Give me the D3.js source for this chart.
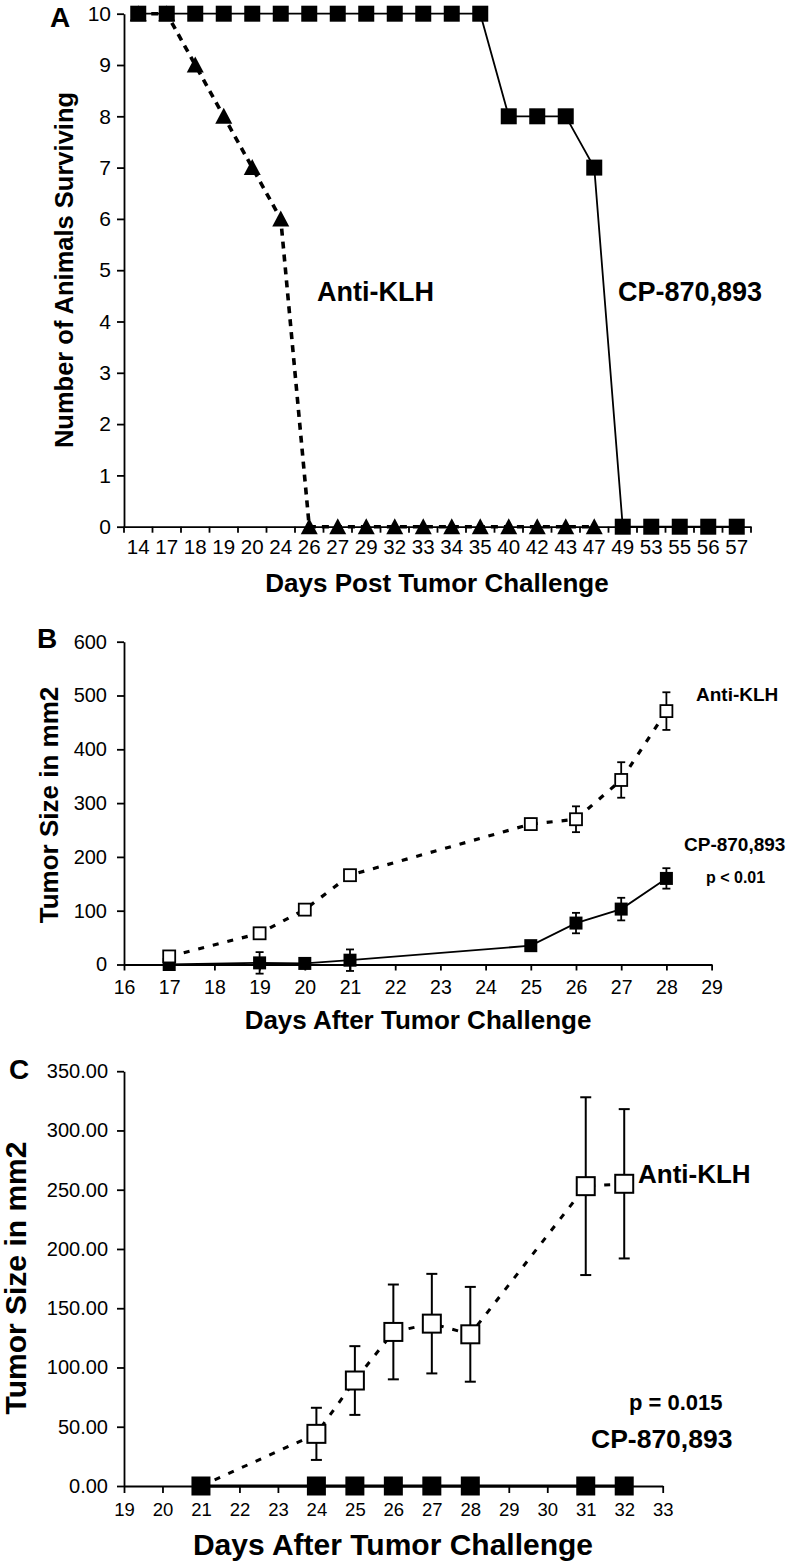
<!DOCTYPE html>
<html>
<head>
  <title>Survival and tumor growth</title>
  <script src="https://d3js.org/d3.v7.min.js"></script>
  <style>
    body { margin: 0; background: #fff; }
    svg { display: block; font-family: "Liberation Sans", Arial, Helvetica, sans-serif; }
    .axis path, .axis line { stroke: #000; stroke-width: 1.8px; }
    .axis text { fill: #000; }
  </style>
</head>
<body>
<svg id="chart" width="786" height="1566"></svg>
<script>
// ---- panel A: survival
const daysA = ["14","17","18","19","20","24","26","27","29","32","33","34","35","40","42","43","47","49","53","55","56","57"];
const survCP = [10,10,10,10,10,10,10,10,10,10,10,10,10,8,8,8,7,0,0,0,0,0];
const survKLH = [10,10,9,8,7,6,0,0,0,0,0,0,0,0,0,0,0];
const ticksA = [0,1,2,3,4,5,6,7,8,9,10];

// ---- panel B: tumor size
const daysB = [17,19,20,21,25,26,27,28];
const klhB = [15,58,102,166,261,270,343,471];
const klhErrB = [4,4,4,4,10,24,33,35];
const cpB = [0,3,2,8,35,77,103,160];
const cpErrB = [0,20,3,20,5,19,21,19];
const ticksBx = [16,17,18,19,20,21,22,23,24,25,26,27,28,29];
const ticksBy = [0,100,200,300,400,500,600];

// ---- panel C: tumor size
const daysC = [21,24,25,26,27,28,31,32];
const klhC = [0,44,89,130,137,128,253,255];
const klhErrC = [0,22,29,40,42,40,75,63];
const cpC = [0,0,0,0,0,0,0,0];
const ticksCx = [19,20,21,22,23,24,25,26,27,28,29,30,31,32,33];
const ticksCy = [0,50,100,150,200,250,300,350];

const svg = d3.select("#chart");

function txt(x, y, s, size, bold, anchor, rot) {
  const t = svg.append("text")
    .attr("font-size", size)
    .attr("font-weight", bold ? "bold" : "normal")
    .attr("text-anchor", anchor || "start")
    .text(s);
  if (rot) t.attr("transform", `translate(${x},${y}) rotate(-90)`);
  else t.attr("x", x).attr("y", y);
  return t;
}

// ================= A =================
const xA = d3.scaleBand().domain(daysA).range([124, 751]);
const yA = d3.scaleLinear().domain([0, 10]).range([526.7, 13.7]);
const cx = d => xA(d) + xA.bandwidth() / 2;

const gAy = svg.append("g").attr("class", "axis").attr("transform", "translate(124,0)")
  .call(d3.axisLeft(yA).tickValues(ticksA).tickSize(7).tickSizeOuter(0).tickPadding(6));
gAy.selectAll("text").attr("font-size", 21);

const gAx = svg.append("g").attr("class", "axis").attr("transform", `translate(0,${yA(0)})`)
  .call(d3.axisBottom(xA).tickSize(0).tickPadding(13));
gAx.selectAll("text").attr("font-size", 20.5);
gAx.selectAll(".tick line").remove();
// boundary ticks between categories
gAx.selectAll(".bt").data(daysA.map(d => xA(d)).concat([xA.range()[1]]))
  .join("line").attr("class", "bt")
  .attr("x1", d => d).attr("x2", d => d).attr("y1", 0).attr("y2", 6);

const lineA = d3.line().x((d, i) => cx(daysA[i])).y(d => yA(d));
svg.append("path").datum(survKLH).attr("d", lineA)
  .attr("fill", "none").attr("stroke", "#000").attr("stroke-width", 3.6)
  .attr("stroke-dasharray", "7,6");
svg.selectAll(".triA").data(survKLH).join("path").attr("class", "triA")
  .attr("d", (d, i) => {
    const x = cx(daysA[i]), y = yA(d);
    return `M${x},${y - 8.5}L${x + 8.5},${y + 7.5}L${x - 8.5},${y + 7.5}Z`;
  }).attr("fill", "#000");
svg.append("path").datum(survCP).attr("d", lineA)
  .attr("fill", "none").attr("stroke", "#000").attr("stroke-width", 1.8);
svg.selectAll(".sqA").data(survCP).join("rect").attr("class", "sqA")
  .attr("x", (d, i) => cx(daysA[i]) - 8).attr("y", d => yA(d) - 8)
  .attr("width", 16).attr("height", 16).attr("fill", "#000");

txt(50, 27, "A", 28, true);
txt(73, 270, "Number of Animals Surviving", 25.5, true, "middle", true);
txt(437, 592, "Days Post Tumor Challenge", 26, true, "middle");
txt(317, 301, "Anti-KLH", 27, true);
txt(618, 301, "CP-870,893", 27, true);

// ================= B =================
const xB = d3.scaleLinear().domain([16, 29]).range([124, 711.6]);
const yB = d3.scaleLinear().domain([0, 600]).range([964.5, 641.7]);

const gBy = svg.append("g").attr("class", "axis").attr("transform", "translate(124,0)")
  .call(d3.axisLeft(yB).tickValues(ticksBy).tickSize(7).tickSizeOuter(0).tickPadding(10));
gBy.selectAll("text").attr("font-size", 20);
const gBx = svg.append("g").attr("class", "axis").attr("transform", `translate(0,${yB(0)})`)
  .call(d3.axisBottom(xB).tickValues(ticksBx).tickSize(6).tickSizeOuter(0).tickPadding(10)
    .tickFormat(d3.format("d")));
gBx.selectAll("text").attr("font-size", 19.5);

function errBars(x, y, days, vals, errs, cap, sw) {
  const g = svg.append("g").attr("stroke", "#000").attr("stroke-width", sw);
  days.forEach((d, i) => {
    if (!errs[i]) return;
    const px = x(d), t = y(vals[i] + errs[i]), b = y(vals[i] - errs[i]);
    g.append("line").attr("x1", px).attr("x2", px).attr("y1", t).attr("y2", b);
    g.append("line").attr("x1", px - cap / 2).attr("x2", px + cap / 2).attr("y1", t).attr("y2", t);
    g.append("line").attr("x1", px - cap / 2).attr("x2", px + cap / 2).attr("y1", b).attr("y2", b);
  });
}
function series(x, y, days, vals, opt) {
  const line = d3.line().x((d, i) => x(days[i])).y(d => y(d));
  const p = svg.append("path").datum(vals).attr("d", line)
    .attr("fill", "none").attr("stroke", "#000").attr("stroke-width", opt.lw);
  if (opt.dash) p.attr("stroke-dasharray", opt.dash);
}
function squares(x, y, days, vals, size, open, sw, skip) {
  const pts = days.map((d, i) => ({ d, v: vals[i], i }))
    .filter(p => !(skip && skip.includes(p.i)));
  svg.append("g").selectAll("rect").data(pts).join("rect")
    .attr("x", p => x(p.d) - size / 2).attr("y", p => y(p.v) - size / 2)
    .attr("width", size).attr("height", size)
    .attr("fill", open ? "#fff" : "#000")
    .attr("stroke", "#000").attr("stroke-width", open ? sw : 0);
}

series(xB, yB, daysB, cpB, { lw: 1.8 });
errBars(xB, yB, daysB, cpB, cpErrB, 8, 1.8);
squares(xB, yB, daysB, cpB, 13, false);
series(xB, yB, daysB, klhB, { lw: 3.2, dash: "6,9" });
errBars(xB, yB, daysB, klhB, klhErrB, 8, 1.8);
squares(xB, yB, daysB, klhB, 12, true, 1.8);

txt(37, 648, "B", 28, true);
txt(58, 805, "Tumor Size in mm2", 26, true, "middle", true);
txt(418, 1029, "Days After Tumor Challenge", 26, true, "middle");
txt(696, 701, "Anti-KLH", 19, true);
txt(684, 851, "CP-870,893", 19, true);
txt(706, 883, "p < 0.01", 16, true);

// ================= C =================
const xC = d3.scaleLinear().domain([19, 33]).range([124, 662.7]);
const yC = d3.scaleLinear().domain([0, 350]).range([1486, 1071.2]);

const gCy = svg.append("g").attr("class", "axis").attr("transform", "translate(124,0)")
  .call(d3.axisLeft(yC).tickValues(ticksCy).tickSize(7).tickSizeOuter(0).tickPadding(9)
    .tickFormat(d3.format(".2f")));
gCy.selectAll("text").attr("font-size", 20);
const gCx = svg.append("g").attr("class", "axis").attr("transform", `translate(0,${yC(0)})`)
  .call(d3.axisBottom(xC).tickValues(ticksCx).tickSize(7).tickSizeOuter(0).tickPadding(10)
    .tickFormat(d3.format("d")));
gCx.selectAll("text").attr("font-size", 18.5);

series(xC, yC, daysC, klhC, { lw: 3, dash: "6,9" });
errBars(xC, yC, daysC, klhC, klhErrC, 11, 2);
squares(xC, yC, daysC, klhC, 18, true, 2, [0]);
series(xC, yC, daysC, cpC, { lw: 3.2 });
squares(xC, yC, daysC, cpC, 19, false);

txt(9, 1079, "C", 28, true);
txt(26, 1278, "Tumor Size in mm2", 30, true, "middle", true);
txt(393, 1555, "Days After Tumor Challenge", 30, true, "middle");
txt(638, 1183, "Anti-KLH", 26, true);
txt(629, 1410, "p = 0.015", 22, true);
txt(591, 1448, "CP-870,893", 26.5, true);
</script>
</body>
</html>
